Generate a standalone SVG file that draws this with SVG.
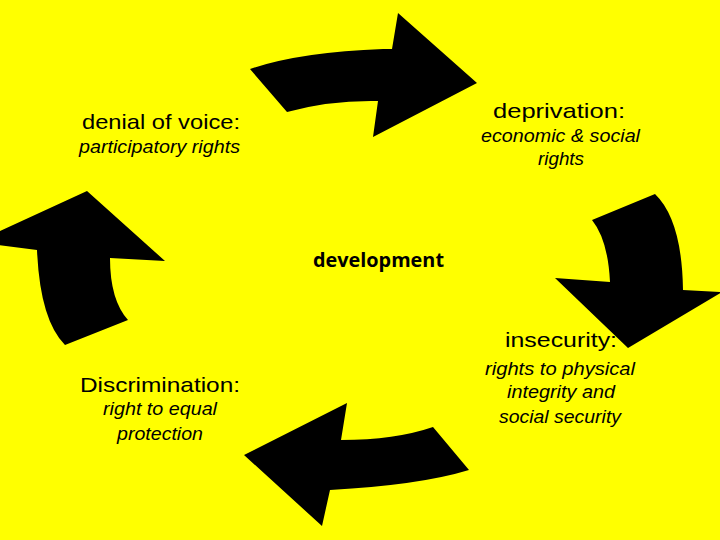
<svg xmlns="http://www.w3.org/2000/svg" width="720" height="540" viewBox="0 0 720 540">
<style>
.t{font-family:"Liberation Sans",Arial,sans-serif;fill:#000}
.h{font-size:21px}
.s{font-size:18px;font-style:italic}
.c{font-family:"Open Sans","Liberation Sans",sans-serif;font-weight:bold;font-size:19px;fill:#000}
.arrow{fill:#000;stroke:none}
</style>
<rect x="0" y="0" width="720" height="540" fill="#ffff00"/>
<g id="connectors">
<path class="arrow" d="M250,69 Q300,52 383,49 L392,49 L398,13 L477,83 L373,137 L378,101 Q330,100 287,112 Z"/>
<path class="arrow" d="M592,220 L655,194 Q682,220 683,290 L722,292 L628,348 L555,278 L610,282 Q608,240 592,220 Z"/>
<path class="arrow" d="M433,427 L469,470 Q420,485 330,490 L322,526 L244,455 L347,403 L341,440 Q395,440 433,427 Z"/>
<path class="arrow" d="M87,191 L165,261 L110,258 Q110,300 128,320 L65,345 Q40,320 37,250 L-2,245 L-2,232 Z"/>
</g>
<g id="node-denial">
<text class="t h" x="82" y="129" textLength="158" lengthAdjust="spacingAndGlyphs">denial of voice:</text>
<text class="t s" x="79" y="153" textLength="161" lengthAdjust="spacingAndGlyphs">participatory rights</text>
</g>
<g id="node-deprivation">
<text class="t h" x="493" y="118" textLength="132" lengthAdjust="spacingAndGlyphs">deprivation:</text>
<text class="t s" x="481" y="142" textLength="159" lengthAdjust="spacingAndGlyphs">economic &amp; social</text>
<text class="t s" x="538" y="165" textLength="46" lengthAdjust="spacingAndGlyphs">rights</text>
</g>
<g id="node-development">
<text class="c" x="313" y="267" textLength="131" lengthAdjust="spacingAndGlyphs">development</text>
</g>
<g id="node-insecurity">
<text class="t h" x="505" y="347" textLength="112" lengthAdjust="spacingAndGlyphs">insecurity:</text>
<text class="t s" x="485" y="375" textLength="150" lengthAdjust="spacingAndGlyphs">rights to physical</text>
<text class="t s" x="507" y="398" textLength="108" lengthAdjust="spacingAndGlyphs">integrity and</text>
<text class="t s" x="499" y="423" textLength="122" lengthAdjust="spacingAndGlyphs">social security</text>
</g>
<g id="node-discrimination">
<text class="t h" x="80" y="392" textLength="160" lengthAdjust="spacingAndGlyphs">Discrimination:</text>
<text class="t s" x="103" y="415" textLength="114" lengthAdjust="spacingAndGlyphs">right to equal</text>
<text class="t s" x="117" y="440" textLength="86" lengthAdjust="spacingAndGlyphs">protection</text>
</g>
</svg>
